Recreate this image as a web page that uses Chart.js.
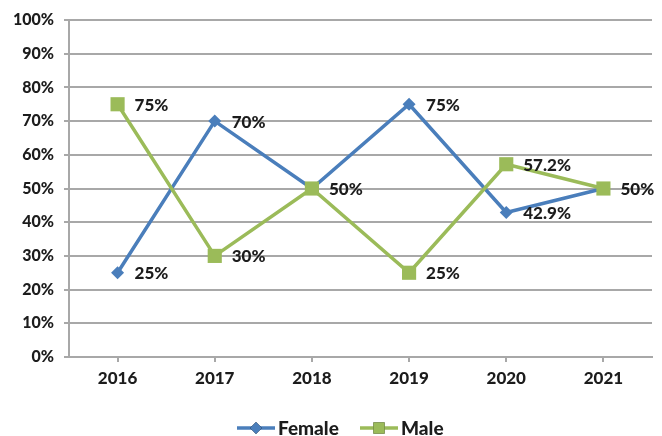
<!DOCTYPE html>
<html lang="en">
<head>
<meta charset="UTF-8" />
<title>Female / Male share by year</title>
<style>
  body { margin: 0; background: #fff; }
  #wrap { width: 662px; height: 436px; }
</style>
</head>
<body>
<div id="wrap"><canvas id="chart" width="662" height="436"></canvas></div>
<script src="https://cdn.jsdelivr.net/npm/chart.js@4.4.0/dist/chart.umd.min.js"></script>
<script>
  const years = ['2016', '2017', '2018', '2019', '2020', '2021'];
  const female = [25, 70, 50, 75, 42.9, 50];
  const male = [75, 30, 50, 25, 57.2, 50];
  const femaleLabels = ['25%', '70%', '', '75%', '42.9%', ''];
  const maleLabels = ['75%', '30%', '50%', '25%', '57.2%', '50%'];

  const FONT = 'Lato, "Open Sans", sans-serif';
  const BLUE = '#4a7ebb';
  const GREEN = '#9bbb59';
  const GRID = '#a8a8a8';
  const INK = '#1c1c1c';

  // value text to the right of each point
  const pointLabels = {
    id: 'pointLabels',
    afterDatasetsDraw(chart) {
      const ctx = chart.ctx;
      ctx.save();
      ctx.font = '900 17px ' + FONT;
      ctx.fillStyle = INK;
      ctx.textBaseline = 'middle';
      ctx.textAlign = 'left';
      chart.data.datasets.forEach((ds, i) => {
        chart.getDatasetMeta(i).data.forEach((pt, j) => {
          const txt = ds.valueLabels[j];
          if (txt) ctx.fillText(txt, pt.x + 17, pt.y + 1);
        });
      });
      ctx.restore();
    }
  };

  // legend with line + marker, like an office chart
  const lineLegend = {
    id: 'lineLegend',
    afterDraw(chart) {
      const ctx = chart.ctx;
      const y = 428;
      const items = [
        { x: 237, ds: chart.data.datasets[0], r: 6 },
        { x: 360, ds: chart.data.datasets[1], r: 8 }
      ];
      ctx.save();
      ctx.font = '900 19px ' + FONT;
      ctx.textBaseline = 'middle';
      items.forEach(it => {
        ctx.strokeStyle = it.ds.borderColor;
        ctx.lineWidth = 3.5;
        ctx.beginPath();
        ctx.moveTo(it.x, y);
        ctx.lineTo(it.x + 38, y);
        ctx.stroke();
        Chart.helpers.drawPoint(ctx, {
          pointStyle: it.ds.pointStyle,
          radius: it.r,
          borderWidth: 0
        }, it.x + 19, y);
        ctx.fillStyle = it.ds.borderColor;
        ctx.fill();
        ctx.fillStyle = INK;
        ctx.fillText(it.ds.label, it.x + 41, y + 1);
      });
      ctx.restore();
    }
  };

  const tickFont = { family: FONT, size: 17, weight: '900' };

  new Chart(document.getElementById('chart'), {
    type: 'line',
    data: {
      labels: years,
      datasets: [
        {
          label: 'Female',
          data: female,
          valueLabels: femaleLabels,
          borderColor: BLUE,
          backgroundColor: BLUE,
          borderWidth: 3.5,
          pointStyle: 'rectRot',
          pointRadius: 6.5,
          pointBorderWidth: 0,
          tension: 0,
          order: 1
        },
        {
          label: 'Male',
          data: male,
          valueLabels: maleLabels,
          borderColor: GREEN,
          backgroundColor: GREEN,
          borderWidth: 3.5,
          pointStyle: 'rect',
          pointRadius: 10,
          pointBorderWidth: 0,
          tension: 0,
          order: 0
        }
      ]
    },
    options: {
      responsive: false,
      animation: false,
      layout: { padding: { top: 20, right: 4, left: 0, bottom: 0 } },
      plugins: {
        legend: { display: false },
        tooltip: { enabled: false }
      },
      scales: {
        x: {
          offset: true,
          grid: { drawOnChartArea: false, drawTicks: true, tickLength: 5, color: GRID, lineWidth: 2 },
          border: { color: GRID, width: 2 },
          ticks: { color: INK, font: tickFont, padding: 6 },
          afterFit(scale) { scale.height = 79; }
        },
        y: {
          min: 0,
          max: 100,
          ticks: {
            stepSize: 10,
            color: INK,
            font: { family: FONT, size: 16, weight: '900' },
            padding: 10,
            callback: v => v + '%'
          },
          grid: { color: GRID, lineWidth: 2, tickLength: 5 },
          border: { color: GRID, width: 2 },
          afterFit(scale) { scale.width = 69; }
        }
      }
    },
    plugins: [pointLabels, lineLegend]
  });
</script>
</body>
</html>
